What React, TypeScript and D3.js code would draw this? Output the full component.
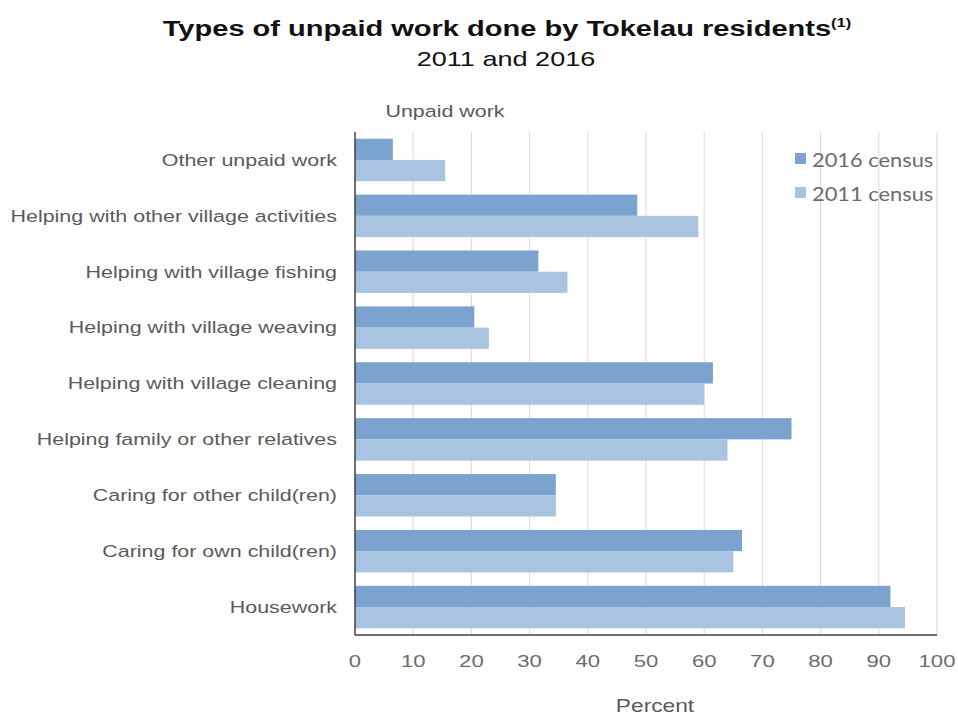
import * as d3 from 'd3';
import * as React from 'react';

// categories top to bottom
const categories = [
  'Other unpaid work',
  'Helping with other village activities',
  'Helping with village fishing',
  'Helping with village weaving',
  'Helping with village cleaning',
  'Helping family or other relatives',
  'Caring for other child(ren)',
  'Caring for own child(ren)',
  'Housework',
];
const census2016 = [6.5, 48.5, 31.5, 20.5, 61.5, 75, 34.5, 66.5, 92];
const census2011 = [15.5, 59, 36.5, 23, 60, 64, 34.5, 65, 94.5];
const seriesNames = ['2016 census', '2011 census'];
const seriesColors = ['#7ba3cf', '#a9c4e1'];
const xTicks = [0, 10, 20, 30, 40, 50, 60, 70, 80, 90, 100];

const width = 958, height = 715;
const margin = { top: 132, right: 21, bottom: 80, left: 355 };
// the source picture is stretched sideways, so the text is too
const SX = 1.3;
const FONT = 'Liberation Sans, Arial, sans-serif';

export default function App() {
  const ref = React.useRef<SVGSVGElement>(null);

  React.useEffect(() => {
    const svg = d3.select(ref.current);
    svg.selectAll('*').remove();

    const place = (x: number, y: number, sx = SX) => 'translate(' + x + ',' + y + ') scale(' + sx + ',1)';

    const x = d3.scaleLinear().domain([0, 100]).range([margin.left, width - margin.right]);
    const y = d3.scaleBand().domain(categories).range([margin.top, height - margin.bottom]).paddingInner(0.24).paddingOuter(0.12);
    const sub = d3.scaleBand().domain(seriesNames).range([0, y.bandwidth()]);

    // grid
    svg.append('g').selectAll('line').data(xTicks.slice(1)).enter().append('line')
      .attr('x1', d => x(d)).attr('x2', d => x(d))
      .attr('y1', margin.top).attr('y2', height - margin.bottom)
      .attr('stroke', '#d9d9d9').attr('stroke-width', 1);

    // bars
    const series = [census2016, census2011];
    series.forEach((vals, si) => {
      svg.append('g').selectAll('rect').data(vals).enter().append('rect')
        .attr('x', x(0))
        .attr('y', (d, i) => (y(categories[i]) as number) + (sub(seriesNames[si]) as number))
        .attr('width', d => x(d) - x(0))
        .attr('height', sub.bandwidth())
        .attr('fill', seriesColors[si]);
    });

    // axes lines
    svg.append('line').attr('x1', x(0)).attr('x2', x(0))
      .attr('y1', margin.top).attr('y2', height - margin.bottom)
      .attr('stroke', '#404040').attr('stroke-width', 1.5);
    svg.append('line').attr('x1', x(0)).attr('x2', x(100))
      .attr('y1', height - margin.bottom).attr('y2', height - margin.bottom)
      .attr('stroke', '#404040').attr('stroke-width', 1.5);

    // tick labels
    svg.append('g').selectAll('text').data(xTicks).enter().append('text')
      .attr('transform', d => place(x(d), height - margin.bottom + 32))
      .attr('text-anchor', 'middle')
      .attr('font-family', FONT)
      .attr('font-size', 17).attr('fill', '#6b6b6b')
      .text(d => d);

    // category labels
    svg.append('g').selectAll('text').data(categories).enter().append('text')
      .attr('transform', d => place(margin.left - 18, (y(d) as number) + y.bandwidth() / 2))
      .attr('dy', '0.35em')
      .attr('text-anchor', 'end')
      .attr('font-family', FONT)
      .attr('font-size', 16.5).attr('fill', '#5a5a5a')
      .text(d => d);

    // legend
    const lg = svg.append('g').attr('transform', 'translate(795,160)');
    seriesNames.forEach((n, i) => {
      lg.append('rect').attr('x', 0).attr('y', i * 34 - 7).attr('width', 11).attr('height', 11).attr('fill', seriesColors[i]);
      lg.append('text').attr('transform', place(17, i * 34, 1.15)).attr('dy', '0.35em')
        .attr('font-family', 'Lato, Carlito, sans-serif').attr('font-size', 19).attr('fill', '#6b6b6b')
        .text(n);
    });

    // titles
    const title = svg.append('text').attr('transform', place(507, 36, 1.32)).attr('text-anchor', 'middle')
      .attr('font-family', FONT).attr('font-size', 22)
      .attr('font-weight', 'bold').attr('fill', '#111');
    title.append('tspan').text('Types of unpaid work done by Tokelau residents');
    title.append('tspan').attr('font-size', 12.5).attr('dy', -9).text('(1)');

    svg.append('text').attr('transform', place(506, 66, 1.32)).attr('text-anchor', 'middle')
      .attr('font-family', FONT).attr('font-size', 20.5).attr('fill', '#111')
      .text('2011 and 2016');

    svg.append('text').attr('transform', place(445, 117)).attr('text-anchor', 'middle')
      .attr('font-family', FONT).attr('font-size', 16.5).attr('fill', '#5a5a5a')
      .text('Unpaid work');

    svg.append('text').attr('transform', place(655, 712)).attr('text-anchor', 'middle')
      .attr('font-family', FONT).attr('font-size', 17.5).attr('fill', '#5a5a5a')
      .text('Percent');
  }, []);

  return (
    <svg ref={ref} width={width} height={height}
      style={{ position: 'absolute', left: 0, top: 0, background: '#fff' }} />
  );
}
